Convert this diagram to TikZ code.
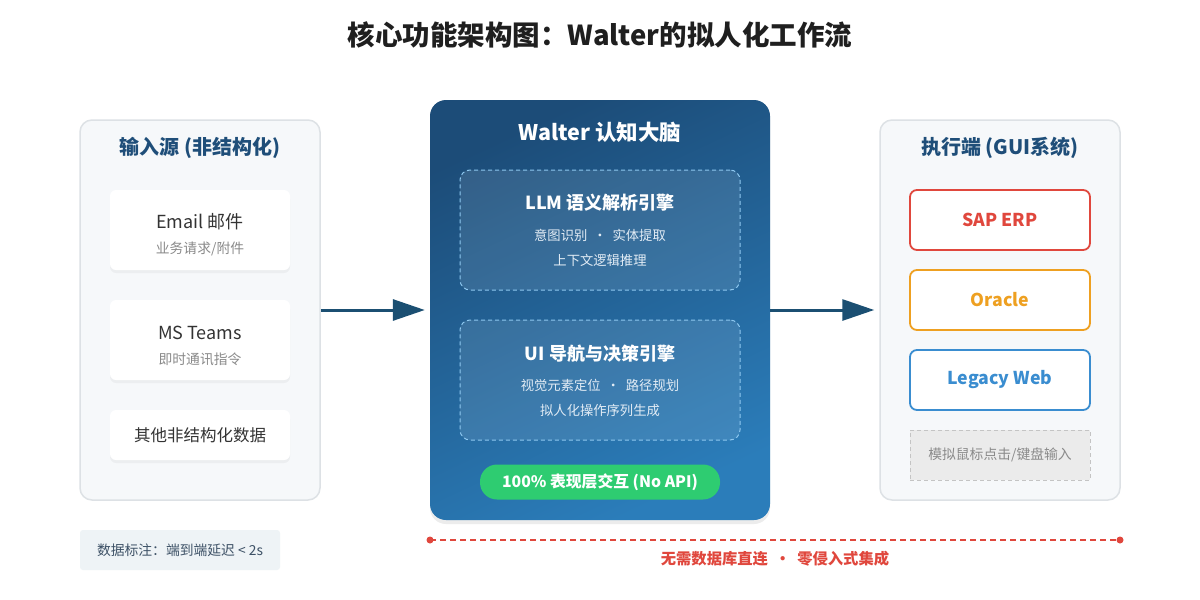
\documentclass[tikz,border=0pt]{standalone}
\usepackage{fontspec}
\setmainfont{Noto Sans CJK SC}
\usetikzlibrary{arrows.meta,shadows,positioning}
\definecolor{hdblue}{HTML}{1F4E79}
\definecolor{arrowblue}{HTML}{1B4F72}
\definecolor{panelfill}{HTML}{F6F8FA}
\definecolor{panelline}{HTML}{DDE1E5}
\definecolor{brainA}{HTML}{1C4C78}
\definecolor{brainB}{HTML}{2B7DBA}
\definecolor{dashline}{HTML}{8EC8F0}
\definecolor{greenpill}{HTML}{2ECC71}
\definecolor{sapred}{HTML}{E0473D}
\definecolor{orclor}{HTML}{EEA021}
\definecolor{legblue}{HTML}{3A8DD0}
\definecolor{graybox}{HTML}{EBEBEB}
\definecolor{grayline}{HTML}{C4C4C4}
\definecolor{graytext}{HTML}{8A8A8A}
\definecolor{maintext}{HTML}{333333}
\definecolor{notefill}{HTML}{EEF3F6}
\definecolor{notetext}{HTML}{3D5166}
\definecolor{subwhite}{HTML}{E2ECF5}
\newcommand{\fsz}[1]{\fontsize{#1}{#1}\selectfont}
\tikzset{
  panel/.style={draw=panelline, fill=panelfill, rounded corners=12pt, line width=1.5pt,
    minimum width=240pt, minimum height=380pt, inner sep=0pt},
  card/.style={fill=white, rounded corners=6pt, minimum width=180pt, inner sep=0pt,
    drop shadow={opacity=0.08, shadow xshift=0pt, shadow yshift=-3pt}},
  hdr/.style={font=\fsz{20}\bfseries, text=hdblue, inner sep=0pt},
  cardmain/.style={font=\fsz{18}, text=maintext, inner sep=0pt},
  cardsub/.style={font=\fsz{13.8}, text=graytext, inner sep=0pt},
  brain/.style={rounded corners=16pt, minimum width=340pt, minimum height=420pt, inner sep=0pt,
    top color=brainA, bottom color=brainB, shading angle=25,
    drop shadow={opacity=0.15, shadow xshift=0pt, shadow yshift=-4pt}},
  engine/.style={draw=dashline, dash pattern=on 4pt off 3pt, line width=1pt, fill=white, fill opacity=0.10,
    rounded corners=10pt, minimum width=280pt, minimum height=120pt, inner sep=0pt},
  engtitle/.style={font=\fsz{18}\bfseries, text=white, inner sep=0pt},
  engsub/.style={font=\fsz{13.3}, text=subwhite, inner sep=0pt},
  sysbox/.style={draw=#1, line width=1.8pt, fill=white, rounded corners=7pt,
    minimum width=180pt, minimum height=60pt, inner sep=0pt,
    font=\fsz{17.7}\bfseries, text=#1},
  flow/.style={draw=arrowblue, line width=3pt, -{Triangle[length=32pt,width=21pt]}, shorten >=5pt},
}
\begin{document}
\begin{tikzpicture}[x=1pt,y=-1pt]
\useasboundingbox (0,0) rectangle (1200,600);
\fill[white] (0,0) rectangle (1200,600);

% title
\node[font=\fsz{27.5}\bfseries, text=black!88, inner sep=0pt] (title) at (600,35) {核心功能架构图：Walter的拟人化工作流};

% left panel
\node[panel] (inpanel) at (200,310) {};
\node[hdr] (inhdr) at (200,148) {输入源 (非结构化)};
\node[card, minimum height=80pt] (email) at (200,230) {};
\node[cardmain] (emailt) at (200,222) {Email 邮件};
\node[cardsub] (emails) at (200,249) {业务请求/附件};
\node[card, minimum height=80pt] (teams) at (200,340) {};
\node[cardmain] (teamst) at (200,333) {MS Teams};
\node[cardsub] (teamss) at (200,359) {即时通讯指令};
\node[card, minimum height=50pt, font=\fsz{16.5}, text=maintext] (other) at (200,435) {其他非结构化数据};

% center brain
\node[brain] (brainbox) at (600,310) {};
\node[font=\fsz{21.5}\bfseries, text=white, inner sep=0pt] (brainhdr) at (600,132) {Walter 认知大脑};
\node[engine] (llm) at (600,230) {};
\node[engtitle] (llmt) at (600,203) {LLM 语义解析引擎};
\node[engsub] (llms1) at (600,235) {意图识别 \ · \ 实体提取};
\node[engsub] (llms2) at (600,260) {上下文逻辑推理};
\node[engine] (ui) at (600,380) {};
\node[engtitle] (uit) at (600,354) {UI 导航与决策引擎};
\node[engsub] (uis1) at (600,385) {视觉元素定位 \ · \ 路径规划};
\node[engsub] (uis2) at (600,410) {拟人化操作序列生成};
\node[fill=greenpill, rounded corners=17pt, minimum width=240pt, minimum height=35pt, inner sep=0pt,
  font=\fsz{15.8}\bfseries, text=white] (pill) at (600,482) {100\% 表现层交互 (No API)};

% right panel
\node[panel] (outpanel) at (1000,310) {};
\node[hdr] (outhdr) at (1000,148) {执行端 (GUI系统)};
\node[sysbox=sapred] (sap) at (1000,220) {SAP ERP};
\node[sysbox=orclor] (oracle) at (1000,300) {Oracle};
\node[sysbox=legblue] (legacy) at (1000,380) {Legacy Web};
\node[draw=grayline, dash pattern=on 4pt off 3pt, line width=1pt, fill=graybox, minimum width=180pt, minimum height=50pt,
  inner sep=0pt, font=\fsz{13.8}, text=graytext] (sim) at (1000,455) {模拟鼠标点击/键盘输入};

% arrows
\draw[flow] (inpanel.east) -- (brainbox.west);
\draw[flow] (brainbox.east) -- (outpanel.west);

% note
\node[fill=notefill, rounded corners=3pt, minimum width=200pt, minimum height=40pt, inner sep=0pt,
  font=\fsz{13.8}, text=notetext] (note) at (180,550) {数据标注：端到端延迟 < 2s};

% red dashed line
\coordinate (rl) at (430,540);
\coordinate (rr) at (1120,540);
\draw[sapred, line width=1.5pt, dash pattern=on 6pt off 4pt] (rl) -- (rr);
\fill[sapred] (rl) circle (3.5pt);
\fill[sapred] (rr) circle (3.5pt);
\node[font=\fsz{15.3}\bfseries, text=sapred, inner sep=0pt] (nodb) at (775,559) {无需数据库直连 \ · \ 零侵入式集成};
\end{tikzpicture}
\end{document}
